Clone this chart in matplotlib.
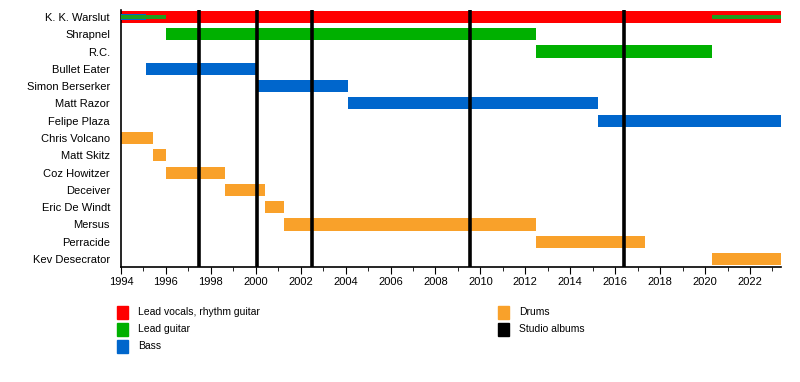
import matplotlib.pyplot as plt
from matplotlib.patches import Rectangle

plt.rcParams['font.family'] = ['Liberation Sans', 'DejaVu Sans']

END = 2023.38

members = ["K. K. Warslut", "Shrapnel", "R.C.", "Bullet Eater", "Simon Berserker",
           "Matt Razor", "Felipe Plaza", "Chris Volcano", "Matt Skitz", "Coz Howitzer",
           "Deceiver", "Eric De Windt", "Mersus", "Perracide", "Kev Desecrator"]
roles = ["vocals", "guitar", "guitar", "bass", "bass", "bass", "bass",
         "drums", "drums", "drums", "drums", "drums", "drums", "drums", "drums"]
starts = [1994.0, 1996.0, 2012.48, 1995.11, 2000.06, 2004.1, 2015.24,
          1994.0, 1995.42, 1996.0, 1998.63, 2000.41, 2001.26, 2012.48, 2020.31]
ends = [END, 2012.48, 2020.31, 2000.06, 2004.1, 2015.24, END,
        1995.42, 1996.0, 1998.63, 2000.41, 2001.26, 2012.48, 2017.33, END]

# extra roles of K. K. Warslut drawn as thin strips inside his bar
kk_bass = [(1994.0, 1995.11)]
kk_guitar = [(1994.0, 1996.0), (2020.31, END)]

albums = [1997.47, 2000.06, 2002.5, 2009.54, 2016.4]

colors = {"vocals": "#ff0000", "guitar": "#00b000", "bass": "#0066cc", "drums": "#f9a12a"}
legend_left = [("Lead vocals, rhythm guitar", "vocals"), ("Lead guitar", "guitar"), ("Bass", "bass")]
legend_right = [("Drums", "drums"), ("Studio albums", "albums")]

fig = plt.figure(figsize=(8, 3.82), dpi=100)
ax = fig.add_axes([121 / 800, 1 - 267 / 382, 660 / 800, 257 / 382])

for i, (r, s, e) in enumerate(zip(roles, starts, ends)):
    ax.barh(i, e - s, left=s, height=0.7, color=colors[r], zorder=2)

for s, e in kk_bass:
    ax.barh(0, e - s, left=s, height=0.36, color=colors["bass"], zorder=3)
for s, e in kk_guitar:
    ax.barh(0, e - s, left=s, height=0.2, color="#1e9e1e", zorder=4)

for a in albums:
    ax.axvline(a, color="black", lw=2.6, zorder=5)

ax.set_xlim(1994, END)
ax.set_ylim(14.46, -0.4)
ax.set_yticks(range(len(members)))
ax.set_yticklabels(members, fontsize=8)
ax.tick_params(axis="y", length=0, pad=8)
ax.set_xticks(range(1994, 2023, 2))
ax.set_xticks(range(1994, 2024), minor=True)
ax.tick_params(axis="x", which="major", length=5, labelsize=8, pad=2)
ax.tick_params(axis="x", which="minor", length=3)
for sp in ["top", "right"]:
    ax.spines[sp].set_visible(False)
ax.spines["left"].set_linewidth(1.2)
ax.spines["bottom"].set_linewidth(1.2)

def legend_item(x, y, label, key):
    c = "black" if key == "albums" else colors[key]
    fig.patches.append(Rectangle((x / 800, 1 - (y + 6.5) / 382), 11 / 800, 13 / 382,
                                 transform=fig.transFigure, color=c))
    fig.text((x + 21) / 800, 1 - y / 382, label, fontsize=7.5, va="center")

for k, (label, key) in enumerate(legend_left):
    legend_item(117, 312 + 17 * k, label, key)
for k, (label, key) in enumerate(legend_right):
    legend_item(498, 312 + 17 * k, label, key)

fig.savefig("out.png", dpi=100)
